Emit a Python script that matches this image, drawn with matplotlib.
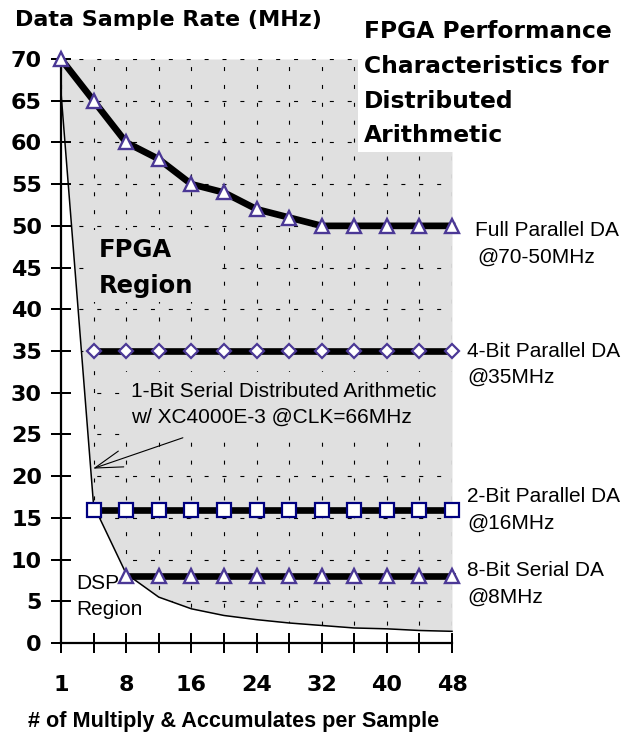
import numpy as np
import matplotlib
matplotlib.use("Agg")
import matplotlib.pyplot as plt
from matplotlib.patches import Rectangle

W, H = 622, 736

macs = [1, 4, 8, 12, 16, 20, 24, 28, 32, 36, 40, 44, 48]
tick_labels = ["1", "", "8", "", "16", "", "24", "", "32", "", "40", "", "48"]
full_parallel = [70, 65, 60, 58, 55, 54, 52, 51, 50, 50, 50, 50, 50]
four_bit = [np.nan, 35, 35, 35, 35, 35, 35, 35, 35, 35, 35, 35, 35]
two_bit = [np.nan, 16, 16, 16, 16, 16, 16, 16, 16, 16, 16, 16, 16]
eight_bit = [np.nan, np.nan, 8, 8, 8, 8, 8, 8, 8, 8, 8, 8, 8]
serial_1bit = [66, 16.5, 8.3, 5.5, 4.1, 3.3, 2.8, 2.4, 2.1, 1.8, 1.7, 1.5, 1.4]

GREY = "#e0e0e0"
PURPLE = "#4b3896"
NAVY = "#000080"
ARIAL = "Liberation Sans"
WIDE = "DejaVu Sans"


def fx(px):
    return px / W


def fy(py):
    return 1 - py / H


fig = plt.figure(figsize=(W / 100, H / 100), dpi=100)
ax = fig.add_axes([fx(61), 93 / H, 391 / W, 584 / H])
x = np.arange(len(macs))
ax.set_xlim(0, 12)
ax.set_ylim(0, 70)

# grey FPGA region above the 1-bit serial curve, grid only inside it
grey = ax.fill_between(x, serial_1bit, 70, color=GREY, lw=0, zorder=0.5)
clip = grey.get_paths()[0]
dash = [(0, (3.6, 12.5))]
hl = ax.hlines(range(5, 71, 5), 0, 12, colors="k", lw=0.8, linestyles=dash, zorder=1)
vl = ax.vlines(x, 0, 70, colors="k", lw=0.8, linestyles=dash, zorder=1)
hl.set_clip_path(clip, ax.transData)
vl.set_clip_path(clip, ax.transData)


def grey_box(x0, y0, x1, y1):
    ax.add_patch(Rectangle((fx(x0), fy(y1)), (x1 - x0) / W, (y1 - y0) / H,
                           transform=fig.transFigure, facecolor=GREY,
                           edgecolor="none", zorder=1.1))


grey_box(85, 230, 215, 302)
grey_box(125, 372, 455, 437)

ax.plot(x, serial_1bit, color="k", lw=1.1, zorder=2, clip_on=False)

ax.plot(x, full_parallel, color="k", lw=4.8, marker="^", ms=10.5, mfc="white",
        mec=PURPLE, mew=1.7, zorder=3, clip_on=False)
ax.plot(x, four_bit, color="k", lw=4.8, marker="D", ms=7, mfc="white",
        mec=PURPLE, mew=1.6, zorder=3, clip_on=False)
ax.plot(x, two_bit, color="k", lw=4.8, marker="s", ms=9.5, mfc="white",
        mec=NAVY, mew=1.6, zorder=3, clip_on=False)
ax.plot(x, eight_bit, color="k", lw=4.8, marker="^", ms=10.5, mfc="white",
        mec=PURPLE, mew=1.7, zorder=3, clip_on=False)

ax.annotate("", xy=(0.98, 20.9), xytext=(3.74, 24.6),
            arrowprops=dict(arrowstyle="->,head_length=1.0,head_width=0.3",
                            lw=0.8, color="k", mutation_scale=20,
                            shrinkA=0, shrinkB=0), zorder=4)

ax.set_xticks(x)
ax.set_xticklabels(tick_labels)
ax.set_yticks(range(0, 71, 5))
ax.tick_params(direction="inout", length=14.4, width=1.44, labelsize=16)
ax.tick_params(axis="x", pad=15.8)
ax.tick_params(axis="y", pad=6.5)
plt.setp(ax.get_xticklabels() + ax.get_yticklabels(), fontweight="bold")
for s in ["top", "right"]:
    ax.spines[s].set_visible(False)
for s in ["left", "bottom"]:
    ax.spines[s].set_linewidth(1.6)
ax.patch.set_alpha(0)

# white box behind the title
fig.patches.append(Rectangle((fx(358), fy(152)), 1 - fx(358), 152 / H,
                             transform=fig.transFigure, facecolor="white",
                             edgecolor="none", zorder=1))


def label(px, py, s, size=15, weight="normal", family=ARIAL):
    fig.text(fx(px), fy(py), s, fontsize=size, fontweight=weight,
             family=family, ha="left", va="baseline", zorder=5)


label(15, 26, "Data Sample Rate (MHz)", 16, "bold", WIDE)
label(364, 38, "FPGA Performance", 16.8, "bold", WIDE)
label(364, 73, "Characteristics for", 16.8, "bold", WIDE)
label(364, 108, "Distributed", 16.8, "bold", WIDE)
label(364, 142, "Arithmetic", 16.8, "bold", WIDE)
label(99, 257, "FPGA", 17.5, "bold", WIDE)
label(99, 293, "Region", 17.5, "bold", WIDE)
label(131, 397, "1-Bit Serial Distributed Arithmetic")
label(131, 423, "w/ XC4000E-3 @CLK=66MHz")
label(475, 236, "Full Parallel DA")
label(477, 263, "@70-50MHz")
label(467, 357, "4-Bit Parallel DA")
label(467, 383, "@35MHz")
label(467, 502, "2-Bit Parallel DA")
label(467, 529, "@16MHz")
label(467, 576, "8-Bit Serial DA")
label(467, 603, "@8MHz")
label(76, 589, "DSP")
label(76, 615, "Region")
label(28, 727, "# of Multiply & Accumulates per Sample", 15.6, "bold")

fig.savefig("out.png", dpi=100)
